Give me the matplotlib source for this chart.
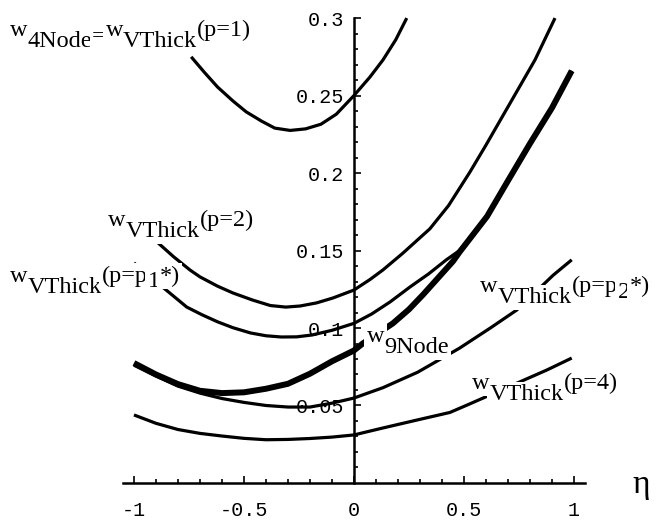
import numpy as np
import matplotlib
matplotlib.use("Agg")
import matplotlib.pyplot as plt
from matplotlib.ticker import FixedLocator

# ── curve samples: eta -> w ──────────────────────────────────────────────────
eta_p1 = [-0.74, -0.68, -0.62, -0.55, -0.49, -0.42, -0.36, -0.29, -0.22, -0.15, -0.08,
          0.0, 0.073, 0.132, 0.19, 0.24]
w_p1   = [0.275, 0.265, 0.2555, 0.2465, 0.2395, 0.2335, 0.229, 0.2275, 0.2285, 0.2315, 0.238,
          0.250, 0.262, 0.273, 0.286, 0.300]

eta_p2 = [-0.895, -0.82, -0.745, -0.70, -0.62, -0.55, -0.46, -0.38, -0.31, -0.245, -0.17,
          -0.095, 0.0, 0.073, 0.132, 0.22, 0.345, 0.43, 0.527, 0.60, 0.677, 0.75, 0.823, 0.914]
w_p2   = [0.1555, 0.146, 0.1374, 0.133, 0.127, 0.1226, 0.118, 0.1145, 0.1135, 0.1142, 0.1162,
          0.1194, 0.1245, 0.1313, 0.1375, 0.148, 0.164, 0.179, 0.2006, 0.218, 0.237, 0.255, 0.273, 0.300]

eta_p1s = [-1.0, -0.96, -0.76, -0.69, -0.62, -0.55, -0.47, -0.40, -0.33, -0.26, -0.19, -0.10,
           0.0, 0.08, 0.164, 0.255, 0.34, 0.42, 0.48, 0.605, 0.70, 0.80, 0.90, 0.99]
w_p1s   = [0.142, 0.137, 0.1135, 0.1085, 0.104, 0.1002, 0.0968, 0.095, 0.0942, 0.0943, 0.0955, 0.0985,
           0.103, 0.109, 0.1168, 0.1265, 0.135, 0.144, 0.150, 0.172, 0.195, 0.219, 0.242, 0.266]

eta_9n = [-1.0, -0.9, -0.8, -0.7, -0.6, -0.5, -0.4, -0.3, -0.2, -0.1, 0.0, 0.04,
          0.177, 0.25, 0.314, 0.45, 0.48, 0.605, 0.70, 0.80, 0.90, 0.99]
w_9n   = [0.0774, 0.070, 0.0638, 0.0595, 0.058, 0.0585, 0.0608, 0.064, 0.0705, 0.0785, 0.0855, 0.090,
          0.103, 0.112, 0.1215, 0.143, 0.149, 0.172, 0.195, 0.219, 0.242, 0.266]

eta_p2s = [-1.0, -0.9, -0.8, -0.7, -0.6, -0.5, -0.4, -0.3, -0.2, -0.1, 0.0,
           0.132, 0.29, 0.48, 0.62, 0.74, 0.905, 0.99]
w_p2s   = [0.076, 0.069, 0.0625, 0.058, 0.0545, 0.052, 0.050, 0.049, 0.049, 0.0515, 0.0548,
           0.0615, 0.0715, 0.087, 0.100, 0.1116, 0.134, 0.144]

eta_p4 = [-1.0, -0.9, -0.8, -0.7, -0.6, -0.5, -0.4, -0.3, -0.2, -0.1, 0.0,
          0.132, 0.286, 0.436, 0.518, 0.877, 0.99]
w_p4   = [0.0439, 0.0385, 0.0345, 0.032, 0.0303, 0.0288, 0.0279, 0.0281, 0.0287, 0.0296, 0.031,
          0.0355, 0.0406, 0.0455, 0.0505, 0.0729, 0.0806]

x_ticks       = [-1, -0.5, 0, 0.5, 1]
x_tick_labels = ["-1", "-0.5", "0", "0.5", "1"]
y_ticks       = [0.05, 0.1, 0.15, 0.2, 0.25, 0.3]
y_tick_labels = ["0.05", "0.1", "0.15", "0.2", "0.25", "0.3"]

# label pieces: (text, rise in points)
RISE = 8
lab_p1  = [("w", RISE), ("4Node", 0), ("=", 3.5), ("w", RISE), ("VThick", 0), ("(p=1)", RISE)]
lab_p2  = [("w", RISE), ("VThick", 0), ("(p=2)", RISE)]
lab_p1s = [("w", RISE), ("VThick", 0), ("(p=p", RISE), ("1", RISE - 4), ("*)", RISE)]
lab_9n  = [("w", RISE), ("9Node", 0)]
lab_p2s = [("w", RISE), ("VThick", 0), ("(p=p", RISE), ("2", RISE - 4), ("*)", RISE)]
lab_p4  = [("w", RISE), ("VThick", 0), ("(p=4)", RISE)]

SERIF = ["Liberation Serif", "DejaVu Serif"]


def rich_label(ax, x, y, parts, size=17.5):
    """Chain text pieces left to right, each raised by its own offset."""
    prev, prev_rise = None, 0
    for s, rise in parts:
        kw = dict(fontsize=size, family=SERIF, ha="left", zorder=6,
                  textcoords="offset points", annotation_clip=False,
                  bbox=dict(boxstyle="square,pad=0.1", fc="white", ec="none"))
        if prev is None:
            prev = ax.annotate(s, xy=(x, y), xycoords="data",
                               xytext=(0, rise), va="baseline", **kw)
        else:
            prev = ax.annotate(s, xy=(1, 0), xycoords=prev,
                               xytext=(0, rise - prev_rise), va="bottom", **kw)
        prev_rise = rise


fig = plt.figure(figsize=(6.59, 5.2), dpi=100)
ax = fig.add_axes([0.1866, 0.0712, 0.701, 0.90])
ax.set_xlim(-1.05, 1.05)
ax.set_ylim(0, 0.302)

thin = dict(color="black", lw=2.3, solid_capstyle="butt", solid_joinstyle="round", zorder=3)
ax.plot(eta_p1, w_p1, **thin)
ax.plot(eta_p2, w_p2, **thin)
ax.plot(eta_p1s, w_p1s, **thin)
ax.plot(eta_p2s, w_p2s, **thin)
ax.plot(eta_p4, w_p4, **thin)
ax.plot(eta_9n, w_9n, color="black", lw=4.3, solid_capstyle="butt",
        solid_joinstyle="round", zorder=3)

# Mathematica style axes crossing at the origin
for side in ("top", "right"):
    ax.spines[side].set_visible(False)
ax.spines["left"].set_position(("data", 0))
ax.spines["bottom"].set_position(("data", 0))
ax.spines["left"].set_bounds(0, 0.3)
for side in ("left", "bottom"):
    ax.spines[side].set_linewidth(1.8)

ax.set_xticks(x_ticks)
ax.set_xticklabels(x_tick_labels)
ax.set_yticks(y_ticks)
ax.set_yticklabels(y_tick_labels)
ax.xaxis.set_minor_locator(FixedLocator(
    [v for v in np.round(np.arange(-1.0, 1.01, 0.1), 2) if v not in x_ticks]))
ax.yaxis.set_minor_locator(FixedLocator(
    [v for v in np.round(np.arange(0.01, 0.3, 0.01), 2) if v not in y_ticks]))

ax.tick_params(which="both", direction="in", width=1.2)
ax.tick_params(which="major", length=5)
ax.tick_params(which="minor", length=3)
ax.tick_params(axis="x", which="major", pad=13)
ax.tick_params(axis="y", which="major", pad=7)
for lab in ax.get_xticklabels() + ax.get_yticklabels():
    lab.set_fontfamily(["Liberation Mono", "DejaVu Sans Mono"])
    lab.set_fontsize(14.5)

ax.text(1.268, -0.0065, "\u03b7", fontsize=24, family=SERIF,
        ha="left", va="baseline", clip_on=False)

rich_label(ax, -1.564, 0.2813, lab_p1)
rich_label(ax, -1.118, 0.1587, lab_p2)
rich_label(ax, -1.564, 0.1226, lab_p1s)
rich_label(ax, 0.059, 0.0839, lab_9n)
rich_label(ax, 0.573, 0.1161, lab_p2s)
rich_label(ax, 0.536, 0.0535, lab_p4)

fig.savefig("out.png", dpi=100)
